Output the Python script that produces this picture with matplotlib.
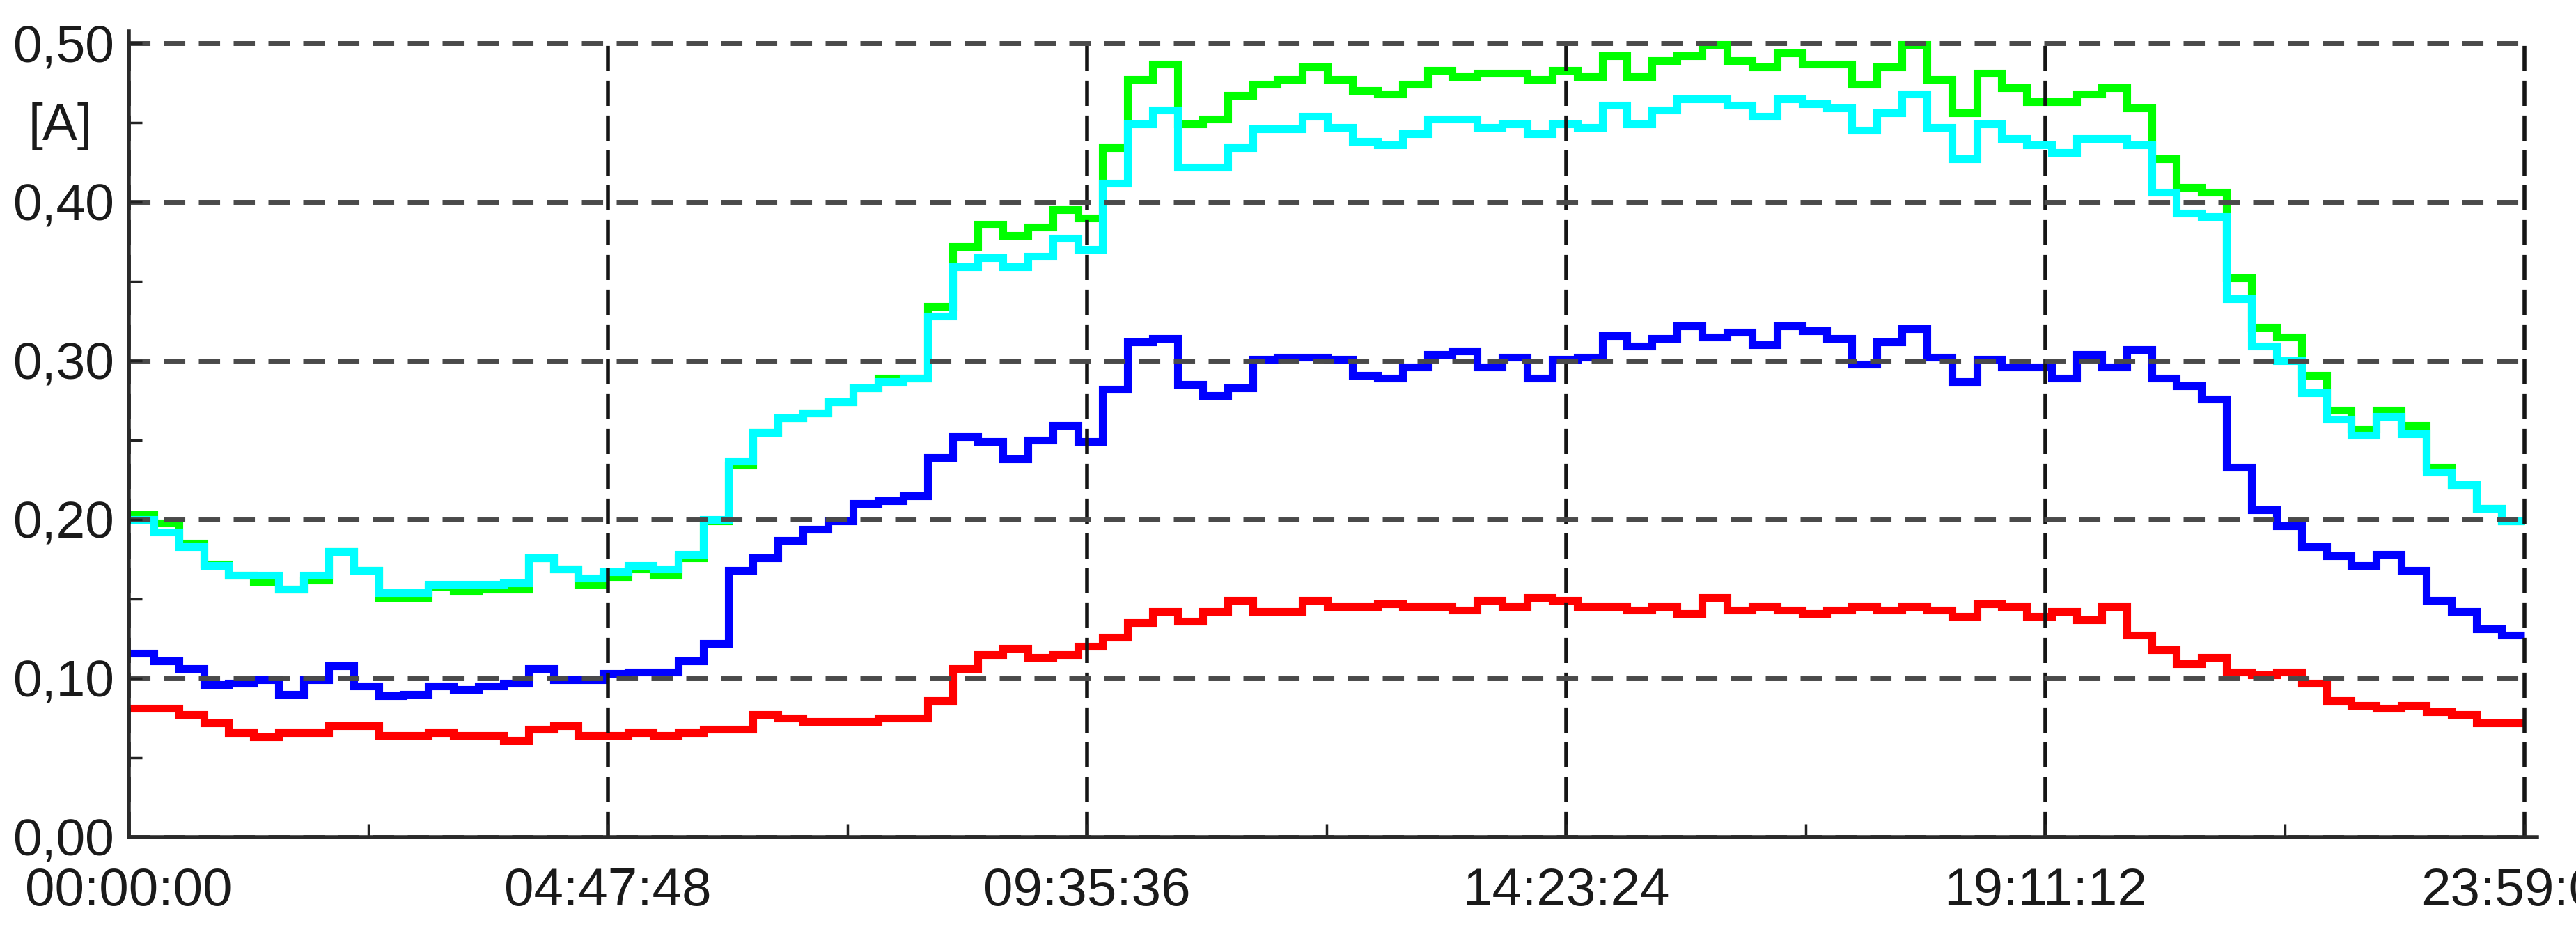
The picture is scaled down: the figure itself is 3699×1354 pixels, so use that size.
import numpy as np
import matplotlib
matplotlib.use("Agg")
import matplotlib.pyplot as plt
from matplotlib.ticker import FixedLocator

# ---------------- data ----------------
STEP_S = 900            # 15-minute samples
AXIS_END_S = 86340      # 23:59:00
TICK_STEP_S = 17268     # 04:47:48

x_tick_labels = ["00:00:00", "04:47:48", "09:35:36", "14:23:24", "19:11:12", "23:59:00"]
y_ticks = [0.0, 0.1, 0.2, 0.3, 0.4, 0.5]
y_tick_labels = ["0,00", "0,10", "0,20", "0,30", "0,40", "0,50"]
y_minor = [0.05, 0.15, 0.25, 0.35, 0.45]

red = [0.081, 0.081, 0.077, 0.072, 0.066, 0.063, 0.066, 0.066, 0.070, 0.070, 0.064, 0.064,
       0.066, 0.064, 0.064, 0.061, 0.068, 0.070, 0.064, 0.064, 0.066, 0.064, 0.066, 0.068,
       0.068, 0.077, 0.075, 0.073, 0.073, 0.073, 0.075, 0.075, 0.086, 0.106, 0.115, 0.119,
       0.113, 0.115, 0.120, 0.126, 0.135, 0.142, 0.136, 0.142, 0.149, 0.142, 0.142, 0.149,
       0.145, 0.145, 0.147, 0.145, 0.145, 0.143, 0.149, 0.145, 0.151, 0.149, 0.145, 0.145,
       0.143, 0.145, 0.141, 0.151, 0.143, 0.145, 0.143, 0.141, 0.143, 0.145, 0.143, 0.145,
       0.143, 0.139, 0.147, 0.145, 0.139, 0.142, 0.137, 0.145, 0.127, 0.118, 0.109, 0.113,
       0.104, 0.102, 0.104, 0.097, 0.086, 0.083, 0.081, 0.083, 0.079, 0.077, 0.072, 0.072]

blue = [0.116, 0.111, 0.106, 0.096, 0.097, 0.099, 0.090, 0.099, 0.108, 0.095, 0.089, 0.090,
        0.095, 0.093, 0.095, 0.097, 0.106, 0.099, 0.099, 0.103, 0.104, 0.104, 0.111, 0.122,
        0.168, 0.176, 0.187, 0.194, 0.199, 0.210, 0.212, 0.215, 0.239, 0.252, 0.249, 0.238,
        0.250, 0.259, 0.249, 0.282, 0.312, 0.314, 0.285, 0.278, 0.283, 0.301, 0.302, 0.302,
        0.301, 0.291, 0.289, 0.296, 0.304, 0.306, 0.296, 0.302, 0.289, 0.301, 0.302, 0.316,
        0.309, 0.314, 0.322, 0.315, 0.318, 0.310, 0.322, 0.319, 0.314, 0.298, 0.312, 0.320,
        0.302, 0.287, 0.301, 0.296, 0.296, 0.289, 0.304, 0.296, 0.307, 0.289, 0.284, 0.276,
        0.233, 0.206, 0.196, 0.183, 0.177, 0.171, 0.178, 0.168, 0.149, 0.142, 0.131, 0.127]

green = [0.203, 0.198, 0.185, 0.172, 0.165, 0.161, 0.156, 0.162, 0.180, 0.168, 0.151, 0.151,
         0.158, 0.155, 0.156, 0.156, 0.176, 0.169, 0.159, 0.164, 0.169, 0.165, 0.176, 0.199,
         0.234, 0.255, 0.264, 0.267, 0.274, 0.283, 0.289, 0.289, 0.334, 0.372, 0.386, 0.379,
         0.384, 0.395, 0.390, 0.434, 0.477, 0.487, 0.449, 0.452, 0.467, 0.474, 0.477, 0.485,
         0.477, 0.470, 0.468, 0.474, 0.483, 0.479, 0.481, 0.481, 0.477, 0.483, 0.479, 0.492,
         0.479, 0.489, 0.492, 0.499, 0.489, 0.485, 0.494, 0.487, 0.487, 0.474, 0.485, 0.499,
         0.477, 0.456, 0.481, 0.472, 0.463, 0.463, 0.468, 0.472, 0.459, 0.427, 0.409, 0.406,
         0.352, 0.321, 0.315, 0.291, 0.269, 0.257, 0.269, 0.259, 0.233, 0.222, 0.207, 0.199]

cyan = [0.200, 0.192, 0.183, 0.171, 0.165, 0.165, 0.156, 0.165, 0.180, 0.168, 0.154, 0.154,
        0.159, 0.159, 0.159, 0.160, 0.176, 0.169, 0.163, 0.167, 0.171, 0.169, 0.178, 0.200,
        0.237, 0.255, 0.264, 0.267, 0.274, 0.283, 0.287, 0.289, 0.328, 0.359, 0.365, 0.359,
        0.366, 0.377, 0.370, 0.412, 0.449, 0.458, 0.422, 0.422, 0.434, 0.446, 0.446, 0.454,
        0.447, 0.438, 0.436, 0.443, 0.452, 0.452, 0.447, 0.449, 0.443, 0.449, 0.447, 0.461,
        0.449, 0.458, 0.465, 0.465, 0.461, 0.454, 0.465, 0.462, 0.459, 0.445, 0.456, 0.468,
        0.447, 0.427, 0.449, 0.440, 0.436, 0.431, 0.440, 0.440, 0.436, 0.406, 0.393, 0.391,
        0.339, 0.309, 0.300, 0.280, 0.263, 0.253, 0.265, 0.254, 0.230, 0.222, 0.207, 0.199]

series = [(red, "#ff0000"), (blue, "#0000ff"), (green, "#00ff00"), (cyan, "#00ffff")]

# ---------------- figure ----------------
plt.rcParams["lines.scale_dashes"] = False
plt.rcParams["font.family"] = ["Liberation Sans", "DejaVu Sans"]

W, H = 3699, 1354
fig = plt.figure(figsize=(W / 100, H / 100), dpi=100)

# pixel geometry of the plotting area
x0_px, x1_px = 185, 3625      # 0 s .. 86340 s
y0_px, y1_px = 1202, 62       # 0.0 .. 0.5
px_per_s = (x1_px - x0_px) / AXIS_END_S
px_per_a = (y0_px - y1_px) / 0.5
x_extra = 250                 # small margin so edge grid lines are not clipped
y_extra = 0.0025
right_px = x1_px + x_extra * px_per_s
top_px = y1_px - y_extra * px_per_a
ax = fig.add_axes([x0_px / W, 1 - y0_px / H, (right_px - x0_px) / W, (y0_px - top_px) / H])

n = len(red)
edges = np.minimum(np.arange(n + 1) * STEP_S, AXIS_END_S)
for vals, col in series:
    yv = np.append(vals, vals[-1])
    ax.plot(edges, yv, drawstyle="steps-post", color=col, lw=8,
            solid_joinstyle="miter", solid_capstyle="butt", zorder=2)

ax.set_xlim(0, AXIS_END_S + x_extra)
ax.set_ylim(0, 0.5 + y_extra)

x_major = [TICK_STEP_S * i for i in range(len(x_tick_labels))]
x_minor = [TICK_STEP_S * (i + 0.5) for i in range(len(x_tick_labels) - 1)]
ax.xaxis.set_major_locator(FixedLocator(x_major))
ax.xaxis.set_minor_locator(FixedLocator(x_minor))
ax.set_xticklabels(x_tick_labels)
ax.yaxis.set_major_locator(FixedLocator(y_ticks))
ax.yaxis.set_minor_locator(FixedLocator(y_minor))
ax.set_yticklabels(y_tick_labels)

ax.set_axisbelow(False)
ax.grid(True, axis="y", which="major", color="#4a4a4a", lw=5, linestyle=(0, (22, 14)))
ax.grid(True, axis="x", which="major", color="#151515", lw=4, linestyle=(0, (26, 10)))

ax.tick_params(axis="both", which="both", direction="in", length=13.5, width=2.5,
               color="#222222", labelcolor="#1a1a1a")
ax.tick_params(axis="y", which="both", pad=15, labelsize=54)
ax.tick_params(axis="x", which="both", pad=31, labelsize=55)

for s in ("top", "right"):
    ax.spines[s].set_visible(False)
for s in ("left", "bottom"):
    ax.spines[s].set_linewidth(4)
    ax.spines[s].set_color("#2a2a2a")
    ax.spines[s].set_zorder(3)
ax.spines["left"].set_bounds(0, 0.5 + 17 / px_per_a)
ax.spines["bottom"].set_bounds(0, AXIS_END_S + 18 / px_per_s)

fig.text(86 / W, 1 - 182 / H, "[A]", ha="center", va="center", fontsize=54, color="#1a1a1a")

fig.savefig("out.png", dpi=100, facecolor="white")
